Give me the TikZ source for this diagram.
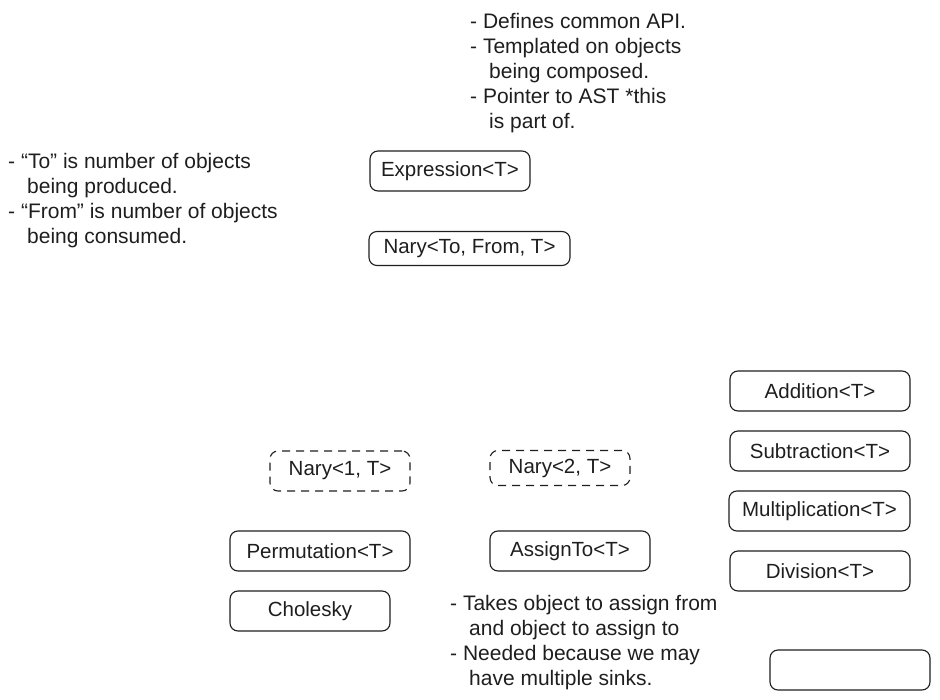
\documentclass[tikz,border=0pt]{standalone}
\usepackage{fontspec}
\setmainfont{Liberation Sans}
\definecolor{ink}{HTML}{1E1E1E}
\begin{document}
\begin{tikzpicture}[x=1pt,y=-1pt,
  box/.style={draw=ink, line width=1.1pt, rounded corners=8pt, minimum width=160pt, minimum height=40pt, inner sep=0pt, text=ink, font=\fontsize{20.5}{24}\selectfont},
  dbox/.style={box, dash pattern=on 8pt off 6pt},
  note/.style={anchor=north west, inner sep=0pt, align=left, text=ink, font=\fontsize{21}{25}\selectfont}]
\useasboundingbox (0,0) rectangle (940,700);
% notes
\node[note] (n1) at (470,13) {- Defines common API.\\- Templated on objects\\\hspace*{19pt}being composed.\\- Pointer to AST *this\\\hspace*{19pt}is part of.};
\node[note] (n2) at (8,153) {- ``To'' is number of objects\\\hspace*{19pt}being produced.\\- ``From'' is number of objects\\\hspace*{19pt}being consumed.};
\node[note] (n3) at (450,595) {- Takes object to assign from\\\hspace*{19pt}and object to assign to\\- Needed because we may\\\hspace*{19pt}have multiple sinks.};
% boxes
\node[box] (expr) at (450,171) {Expression<T>};
\node[box, minimum width=201pt, minimum height=34pt] (nary) at (469.5,248.5) {Nary<To, From, T>};
\node[box, minimum width=180pt] (add) at (820,391) {Addition<T>};
\node[box, minimum width=180pt] (sub) at (820,451) {Subtraction<T>};
\node[box, minimum width=181pt] (mul) at (819.5,511) {Multiplication<T>};
\node[box, minimum width=180pt] (div) at (820,571) {Division<T>};
\node[dbox, minimum width=140pt] (nary1) at (340,471) {Nary<1, T>};
\node[dbox, minimum width=140pt, minimum height=35pt] (nary2) at (560,468) {Nary<2, T>};
\node[box, minimum width=180pt] (perm) at (320,551) {Permutation<T>};
\node[box] (assign) at (570,551) {AssignTo<T>};
\node[box] (chol) at (310,611) {Cholesky};
\node[box] (empty) at (850,670) {};
\end{tikzpicture}
\end{document}
